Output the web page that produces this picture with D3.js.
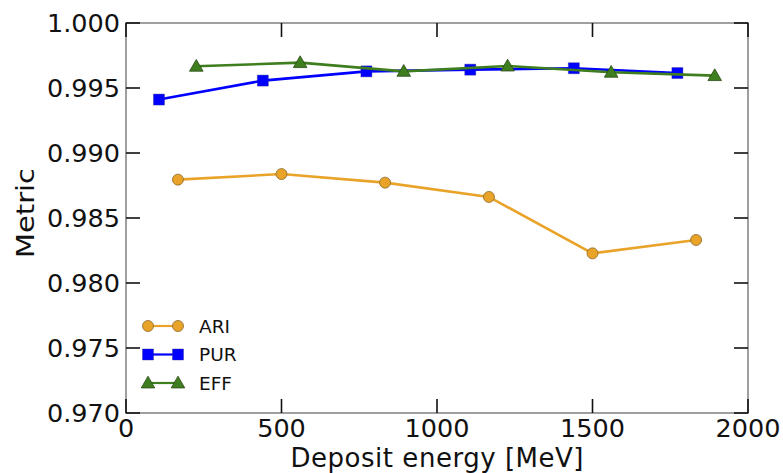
<!DOCTYPE html>
<html>
<head>
<meta charset="utf-8">
<script src="https://cdn.jsdelivr.net/npm/d3@7/dist/d3.min.js"></script>
<style>
  html, body { margin: 0; padding: 0; background: #fff; }
  svg { display: block; font-family: "DejaVu Sans", sans-serif; }
</style>
</head>
<body>
<svg id="chart" width="783" height="473"></svg>
<script>
// Clustering metrics versus deposited energy
const xTicks = [0, 500, 1000, 1500, 2000];
const yTicks = [0.970, 0.975, 0.980, 0.985, 0.990, 0.995, 1.000];

const ariEnergy = [167, 500, 833, 1167, 1500, 1833];
const ariValues = [0.98795, 0.98838, 0.98772, 0.98662, 0.98228, 0.98331];

const purEnergy = [106, 440, 773, 1107, 1440, 1773];
const purValues = [0.99411, 0.99557, 0.99628, 0.99641, 0.99652, 0.99615];

const effEnergy = [226, 560, 893, 1227, 1560, 1893];
const effValues = [0.99667, 0.99695, 0.99628, 0.99669, 0.99621, 0.99595];

const seriesNames = ["ARI", "PUR", "EFF"];
const seriesColors = ["#E9A329", "#0000FF", "#3F7E1E"];
const seriesShapes = [d3.symbolCircle, d3.symbolSquare, d3.symbolTriangle];

const svg = d3.select("#chart");
const m = { left: 126, right: 35, top: 23, bottom: 60 };
const W = 783, H = 473;
const x = d3.scaleLinear().domain([0, 2000]).range([m.left, W - m.right]);
const y = d3.scaleLinear().domain([0.970, 1.000]).range([H - m.bottom, m.top]);

const series = [
  { name: seriesNames[0], xs: ariEnergy, ys: ariValues },
  { name: seriesNames[1], xs: purEnergy, ys: purValues },
  { name: seriesNames[2], xs: effEnergy, ys: effValues }
];

// Marker sizes (area) so each shape is about 11px across
const shapeSize = [95, 121, 80];
const markerEdge = ["#8a6a2a", "#2a2a8a", "#2b4a18"];

const line = d3.line().x(d => d[0]).y(d => d[1]);

series.forEach((s, i) => {
  const pts = s.xs.map((v, k) => [x(v), y(s.ys[k])]);
  svg.append("path")
    .attr("d", line(pts))
    .attr("fill", "none")
    .attr("stroke", seriesColors[i])
    .attr("stroke-width", 2.6);
  svg.selectAll(null).data(pts).enter().append("path")
    .attr("d", d3.symbol().type(seriesShapes[i]).size(shapeSize[i]))
    .attr("transform", d => `translate(${d[0]},${d[1] + (i === 2 ? 1 : 0)})`)
    .attr("fill", seriesColors[i])
    .attr("stroke", markerEdge[i])
    .attr("stroke-width", i === 1 ? 0.4 : 0.8);
});

// Frame
const x0 = x(0), x1 = x(2000), y0 = y(0.970), y1 = y(1.000);
svg.append("rect")
  .attr("x", x0).attr("y", y1)
  .attr("width", x1 - x0).attr("height", y0 - y1)
  .attr("fill", "none")
  .attr("stroke", "#888")
  .attr("stroke-width", 1.6);

// Inward ticks on all four sides
const tickLen = 14;
const ticks = svg.append("g").attr("stroke", "#111").attr("stroke-width", 1.6);
xTicks.forEach(t => {
  ticks.append("line").attr("x1", x(t)).attr("x2", x(t)).attr("y1", y0).attr("y2", y0 - tickLen);
  ticks.append("line").attr("x1", x(t)).attr("x2", x(t)).attr("y1", y1).attr("y2", y1 + tickLen);
});
yTicks.forEach(t => {
  ticks.append("line").attr("x1", x0).attr("x2", x0 + tickLen).attr("y1", y(t)).attr("y2", y(t));
  ticks.append("line").attr("x1", x1).attr("x2", x1 - tickLen).attr("y1", y(t)).attr("y2", y(t));
});

// Tick labels
svg.append("g").selectAll("text").data(xTicks).enter().append("text")
  .attr("x", d => x(d)).attr("y", y0 + 24)
  .attr("text-anchor", "middle")
  .attr("font-size", 25.5)
  .attr("fill", "#111")
  .text(d => d3.format("d")(d));

svg.append("g").selectAll("text").data(yTicks).enter().append("text")
  .attr("x", x0 - 6).attr("y", d => y(d) + 9)
  .attr("text-anchor", "end")
  .attr("font-size", 25.5)
  .attr("fill", "#111")
  .text(d => d3.format(".3f")(d));

// Axis titles
svg.append("text")
  .attr("x", (x0 + x1) / 2).attr("y", 467)
  .attr("text-anchor", "middle")
  .attr("font-size", 26)
  .attr("textLength", 293)
  .attr("fill", "#111")
  .text("Deposit energy [MeV]");

svg.append("text")
  .attr("transform", `translate(34,213) rotate(-90)`)
  .attr("text-anchor", "middle")
  .attr("font-size", 25)
  .attr("textLength", 90)
  .attr("lengthAdjust", "spacingAndGlyphs")
  .attr("fill", "#111")
  .text("Metric");

// Legend
const legend = svg.append("g");
series.forEach((s, i) => {
  const ly = 326 + i * 28.5;
  const lx0 = 148, lx1 = 178;
  legend.append("line")
    .attr("x1", lx0).attr("x2", lx1).attr("y1", ly).attr("y2", ly)
    .attr("stroke", seriesColors[i]).attr("stroke-width", 2.2);
  [lx0, lx1].forEach(px => {
    legend.append("path")
      .attr("d", d3.symbol().type(seriesShapes[i]).size(shapeSize[i]))
      .attr("transform", `translate(${px},${ly + (i === 2 ? 1 : 0)})`)
      .attr("fill", seriesColors[i])
      .attr("stroke", markerEdge[i])
      .attr("stroke-width", i === 1 ? 0.4 : 0.8);
  });
  legend.append("text")
    .attr("x", 199).attr("y", ly + 6.5)
    .attr("font-size", 18.5)
    .attr("fill", "#111")
    .text(s.name);
});
</script>
</body>
</html>
